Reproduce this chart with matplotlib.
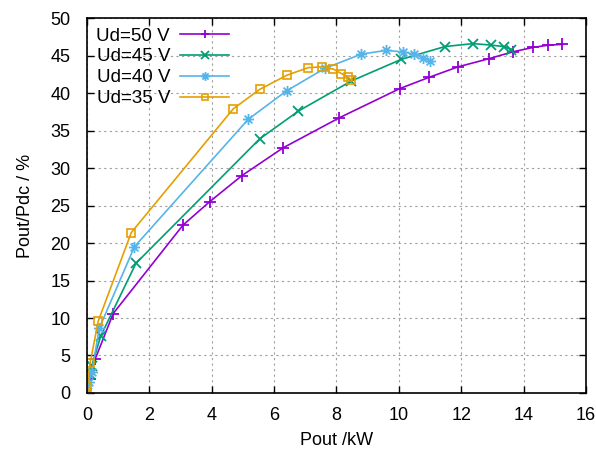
import matplotlib
matplotlib.use("Agg")
import matplotlib.pyplot as plt
from matplotlib.path import Path

plt.rcParams['font.family'] = ['Liberation Sans', 'DejaVu Sans']

# Ud = 50 V
x50 = [0.0, 0.1, 0.26, 0.84, 3.08, 3.93, 4.97, 6.29, 8.09, 10.03, 10.97, 11.9, 12.9, 13.65, 14.32, 14.8, 15.25]
y50 = [0.0, 1.8, 4.5, 10.6, 22.4, 25.5, 29.0, 32.7, 36.7, 40.6, 42.1, 43.5, 44.6, 45.5, 46.1, 46.4, 46.5]
# Ud = 45 V
x45 = [0.0, 0.08, 0.15, 0.44, 1.57, 5.54, 6.78, 8.47, 10.08, 11.47, 12.38, 12.97, 13.37, 13.61]
y45 = [0.0, 2.5, 3.6, 7.6, 17.3, 33.9, 37.6, 41.6, 44.5, 46.2, 46.6, 46.4, 46.2, 45.8]
# Ud = 40 V
x40 = [0.0, 0.06, 0.15, 0.4, 1.52, 5.17, 6.4, 7.63, 8.8, 9.6, 10.12, 10.5, 10.78, 11.0]
y40 = [0.0, 1.5, 2.8, 8.7, 19.5, 36.5, 40.3, 43.3, 45.2, 45.7, 45.5, 45.2, 44.7, 44.3]
# Ud = 35 V
x35 = [0.0, 0.0, 0.1, 0.36, 1.42, 4.69, 5.54, 6.42, 7.1, 7.55, 7.9, 8.16, 8.38, 8.48]
y35 = [0.0, 0.9, 4.0, 9.6, 21.4, 37.9, 40.5, 42.4, 43.4, 43.5, 43.2, 42.6, 42.1, 41.7]

labels = ['Ud=50 V', 'Ud=45 V', 'Ud=40 V', 'Ud=35 V']
colors = ['#9400d3', '#009e73', '#56b4e9', '#e69f00']

# gnuplot-style star: plus and cross together
star = Path([(-1, 0), (1, 0), (0, -1), (0, 1), (-0.7, -0.7), (0.7, 0.7), (-0.7, 0.7), (0.7, -0.7)],
            [Path.MOVETO, Path.LINETO] * 4)

fig = plt.figure(figsize=(5.96, 4.53), dpi=100)
ax = fig.add_axes([0.146, 0.1325, 0.837, 0.8275])

ax.plot(x50, y50, color=colors[0], lw=1.2, marker='+', ms=8, mew=1.3, label=labels[0])
ax.plot(x45, y45, color=colors[1], lw=1.2, marker='x', ms=6.5, mew=1.3, label=labels[1])
ax.plot(x40, y40, color=colors[2], lw=1.2, marker=star, ms=8, mew=1.3, mfc='none', label=labels[2])
ax.plot(x35, y35, color=colors[3], lw=1.2, marker='s', ms=6, mew=1.2, mfc='none', label=labels[3])

ax.set_xlim(0, 16)
ax.set_ylim(0, 50)
ax.set_xticks(range(0, 17, 2))
ax.set_yticks(range(0, 51, 5))
ax.grid(True, color='#a0a0a0', linestyle=(0, (2, 3)), linewidth=0.8)
ax.tick_params(direction='in', top=True, right=True, labelsize=13, length=5, width=1)
ax.tick_params(axis='y', pad=12)
ax.tick_params(axis='x', pad=10)
for s in ax.spines.values():
    s.set_linewidth(1.2)

ax.set_xlabel('Pout /kW', fontsize=13, labelpad=6)
ax.set_ylabel('Pout/Pdc / %', fontsize=13, labelpad=12)

leg = ax.legend(loc='upper left', frameon=False, markerfirst=False, fontsize=13.5,
                handlelength=2.6, labelspacing=0.2, borderaxespad=0.2, handletextpad=0.55,
                markerscale=0.8, borderpad=0.3)

fig.savefig('out.png', dpi=100)
